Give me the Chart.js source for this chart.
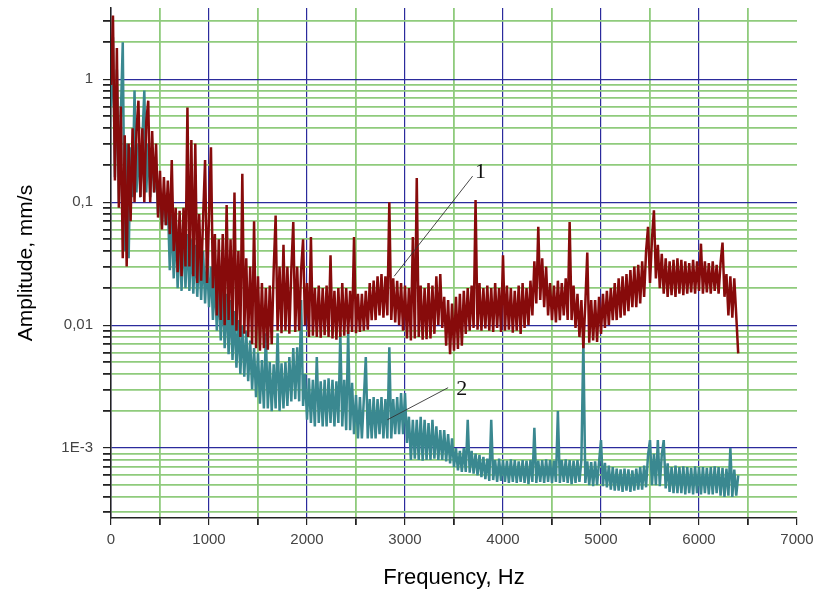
<!DOCTYPE html>
<html>
<head>
<meta charset="utf-8">
<title>Spektr</title>
<script src="https://cdn.jsdelivr.net/npm/chart.js@4.4.0/dist/chart.umd.min.js"></script>
<style>
  html, body { margin: 0; padding: 0; background: #fff; }
  canvas { display: block; }
</style>
</head>
<body>
<canvas id="spektr" width="821" height="597"></canvas>
<script>
// spacing between spectrum lines, Hz
var freqStep = 20;

// curve 1 - amplitude, mm/s (0 ... 6400 Hz)
var amp1 = [
    0.9, 3.3, 0.15, 1.8, 0.09, 0.6, 0.035, 0.35, 0.03, 0.3,
    0.07, 0.4, 0.1, 0.38, 0.67, 0.11, 0.4, 0.1, 0.45, 0.67,
    0.1, 0.38, 0.12, 0.3, 0.075, 0.18, 0.06, 0.16, 0.065, 0.15,
    0.055, 0.22, 0.04, 0.09, 0.027, 0.085, 0.025, 0.09, 0.03, 0.59,
    0.03, 0.32, 0.025, 0.3, 0.022, 0.08, 0.023, 0.075, 0.22, 0.022,
    0.075, 0.28, 0.02, 0.055, 0.012, 0.05, 0.011, 0.055, 0.01, 0.095,
    0.011, 0.05, 0.01, 0.12, 0.009, 0.04, 0.008, 0.17, 0.0085, 0.035,
    0.008, 0.03, 0.007, 0.07, 0.0065, 0.025, 0.0062, 0.022, 0.0065, 0.02,
    0.0063, 0.021, 0.007, 0.028, 0.078, 0.009, 0.03, 0.0086, 0.045, 0.009,
    0.03, 0.0085, 0.028, 0.069, 0.0088, 0.03, 0.009, 0.028, 0.05, 0.01,
    0.022, 0.008, 0.052, 0.0082, 0.02, 0.008, 0.021, 0.0079, 0.02, 0.0083,
    0.021, 0.008, 0.037, 0.0078, 0.019, 0.0076, 0.02, 0.008, 0.022, 0.0082,
    0.02, 0.0085, 0.019, 0.0088, 0.052, 0.0086, 0.018, 0.0088, 0.018, 0.009,
    0.019, 0.0092, 0.022, 0.011, 0.023, 0.011, 0.025, 0.012, 0.026, 0.0115,
    0.025, 0.012, 0.1, 0.011, 0.024, 0.0105, 0.023, 0.01, 0.022, 0.009,
    0.021, 0.0078, 0.02, 0.0075, 0.052, 0.0078, 0.157, 0.008, 0.021, 0.0076,
    0.02, 0.0077, 0.022, 0.0078, 0.021, 0.0085, 0.025, 0.01, 0.026, 0.0095,
    0.017, 0.0068, 0.016, 0.0058, 0.015, 0.0062, 0.017, 0.0064, 0.018, 0.0068,
    0.019, 0.0085, 0.02, 0.009, 0.021, 0.0095, 0.104, 0.0092, 0.022, 0.009,
    0.02, 0.0094, 0.021, 0.009, 0.02, 0.0088, 0.022, 0.0095, 0.02, 0.0088,
    0.037, 0.009, 0.021, 0.0092, 0.02, 0.0087, 0.019, 0.009, 0.021, 0.0085,
    0.022, 0.0095, 0.02, 0.01, 0.023, 0.012, 0.033, 0.015, 0.063, 0.016,
    0.035, 0.014, 0.03, 0.012, 0.022, 0.011, 0.021, 0.0105, 0.023, 0.011,
    0.022, 0.012, 0.024, 0.011, 0.069, 0.011, 0.021, 0.0095, 0.018, 0.008,
    0.016, 0.0065, 0.015, 0.039, 0.0072, 0.016, 0.0075, 0.016, 0.0073, 0.017,
    0.0085, 0.018, 0.0095, 0.019, 0.01, 0.02, 0.011, 0.022, 0.011, 0.024,
    0.0115, 0.025, 0.012, 0.026, 0.013, 0.028, 0.014, 0.03, 0.014, 0.031,
    0.015, 0.033, 0.017, 0.04, 0.063, 0.022, 0.05, 0.086, 0.024, 0.045,
    0.02, 0.038, 0.018, 0.035, 0.017, 0.033, 0.0175, 0.034, 0.017, 0.035,
    0.018, 0.034, 0.0175, 0.033, 0.018, 0.032, 0.0185, 0.034, 0.018, 0.033,
    0.019, 0.046, 0.018, 0.033, 0.0185, 0.032, 0.018, 0.033, 0.019, 0.031,
    0.018, 0.032, 0.047, 0.017, 0.026, 0.012, 0.025, 0.0115, 0.024, 0.012,
    0.0059
];

// curve 2 - amplitude, mm/s (0 ... 6400 Hz)
var amp2 = [
    0.6, 2.2, 0.16, 1.2, 0.1, 0.5, 2.0, 0.04, 0.3, 0.035,
    0.28, 0.11, 0.81, 0.12, 0.3, 0.11, 0.32, 0.81, 0.12, 0.3,
    0.11, 0.28, 0.12, 0.2, 0.08, 0.13, 0.065, 0.12, 0.065, 0.1,
    0.028, 0.08, 0.024, 0.07, 0.02, 0.06, 0.019, 0.06, 0.02, 0.055,
    0.019, 0.05, 0.018, 0.045, 0.017, 0.04, 0.016, 0.04, 0.015, 0.035,
    0.014, 0.03, 0.011, 0.025, 0.009, 0.022, 0.0075, 0.02, 0.0065, 0.018,
    0.0058, 0.016, 0.0052, 0.013, 0.0045, 0.011, 0.004, 0.01, 0.0038, 0.009,
    0.0035, 0.0075, 0.003, 0.0065, 0.0026, 0.006, 0.0023, 0.0052, 0.0021, 0.0086,
    0.0021, 0.005, 0.002, 0.0048, 0.0021, 0.0086, 0.002, 0.0049, 0.0021, 0.005,
    0.0022, 0.0055, 0.0024, 0.0065, 0.0025, 0.0066, 0.0024, 0.016, 0.0022, 0.004,
    0.0017, 0.0037, 0.0016, 0.0036, 0.0015, 0.0055, 0.0016, 0.0035, 0.0015, 0.0036,
    0.0015, 0.0037, 0.0016, 0.0036, 0.0015, 0.0035, 0.0016, 0.0086, 0.0015, 0.0036,
    0.0014, 0.009, 0.0014, 0.0034, 0.0013, 0.0027, 0.0012, 0.0026, 0.0012, 0.0025,
    0.0055, 0.0012, 0.0025, 0.0012, 0.0026, 0.0012, 0.0025, 0.0013, 0.0026, 0.0012,
    0.0025, 0.0012, 0.0066, 0.0012, 0.0025, 0.0013, 0.0026, 0.0013, 0.0028, 0.0013,
    0.0028, 0.0011, 0.0018, 0.0008, 0.0017, 0.00082, 0.0017, 0.0008, 0.0018, 0.00079,
    0.0017, 0.0008, 0.0016, 0.0008, 0.0017, 0.00082, 0.0015, 0.0008, 0.0014, 0.0008,
    0.0014, 0.00078, 0.0013, 0.00075, 0.0012, 0.0007, 0.001, 0.00066, 0.00095, 0.00064,
    0.001, 0.00064, 0.0017, 0.00063, 0.00095, 0.00062, 0.0009, 0.0006, 0.00088, 0.00058,
    0.00085, 0.00056, 0.00082, 0.00054, 0.0017, 0.00055, 0.0008, 0.00053, 0.00082, 0.00054,
    0.0008, 0.00053, 0.00079, 0.00052, 0.00081, 0.00053, 0.0008, 0.00052, 0.00078, 0.00053,
    0.0008, 0.00052, 0.00079, 0.00051, 0.0008, 0.00053, 0.00146, 0.00052, 0.00079, 0.00053,
    0.0008, 0.00052, 0.00081, 0.00053, 0.0008, 0.00052, 0.00079, 0.00053, 0.002, 0.00052,
    0.0008, 0.00053, 0.00081, 0.00052, 0.0008, 0.00051, 0.00079, 0.00052, 0.0008, 0.00053,
    0.0008, 0.0076, 0.00052, 0.00078, 0.0005, 0.00077, 0.00049, 0.00078, 0.0005, 0.00077,
    0.00116, 0.00049, 0.00076, 0.00048, 0.00072, 0.00046, 0.0007, 0.00045, 0.00068, 0.00045,
    0.00067, 0.00044, 0.00068, 0.00045, 0.00067, 0.00044, 0.00066, 0.00045, 0.00068, 0.00046,
    0.0007, 0.00046, 0.00072, 0.00048, 0.00088, 0.00116, 0.0005, 0.0009, 0.0005, 0.00116,
    0.00049, 0.00088, 0.00116, 0.00047, 0.00075, 0.00044, 0.0007, 0.00043, 0.00072, 0.00043,
    0.0007, 0.00043, 0.00071, 0.00042, 0.0007, 0.00043, 0.00069, 0.00042, 0.00071, 0.00043,
    0.0007, 0.00042, 0.0007, 0.00043, 0.00069, 0.00042, 0.0007, 0.00042, 0.00071, 0.00043,
    0.0007, 0.00041, 0.00069, 0.0004, 0.00068, 0.00041, 0.001, 0.0004, 0.00067, 0.00041,
    0.0006
];

// labels of the decades on the log axis
var yLabels = { "1": "1", "0.1": "0,1", "0.01": "0,01", "0.001": "1E-3" };

var farbe_rot = "#870b0b";
var farbe_tuerkis = "#3a8890";
var gitter_blau = "#2b2b9c";
var gitter_gruen = "#8fcb7c";

function to_points(werte) {
    var punkte = [];
    for (var i = 0; i < werte.length; i++) {
        punkte.push({ x: i * freqStep, y: werte[i] });
    }
    return punkte;
}

function is_decade(v) {
    var l = Math.log10(v);
    return Math.abs(l - Math.round(l)) < 1e-6;
}

// curve numbers with leader lines
var beschriftung = [
    { text: "1", at: [3770, 0.175], from: [3690, 0.163], to: [2890, 0.025] },
    { text: "2", at: [3580, 0.003], from: [3440, 0.0031], to: [2820, 0.0017] }
];

var weisser_hintergrund = {
    id: "weisser_hintergrund",
    beforeDraw: function(chart) {
        var ctx = chart.ctx;
        ctx.save();
        ctx.fillStyle = "#ffffff";
        ctx.fillRect(0, 0, chart.width, chart.height);
        ctx.restore();
    }
};

var kurven_nummern = {
    id: "kurven_nummern",
    afterDatasetsDraw: function(chart) {
        var ctx = chart.ctx;
        var sx = chart.scales.x, sy = chart.scales.y;
        ctx.save();
        for (var i = 0; i < beschriftung.length; i++) {
            var b = beschriftung[i];
            ctx.strokeStyle = "#333";
            ctx.lineWidth = 0.9;
            ctx.beginPath();
            ctx.moveTo(sx.getPixelForValue(b.from[0]), sy.getPixelForValue(b.from[1]));
            ctx.lineTo(sx.getPixelForValue(b.to[0]), sy.getPixelForValue(b.to[1]));
            ctx.stroke();
            ctx.fillStyle = "#111";
            ctx.font = "22px 'Liberation Serif', serif";
            ctx.textAlign = "center";
            ctx.textBaseline = "middle";
            ctx.fillText(b.text, sx.getPixelForValue(b.at[0]), sy.getPixelForValue(b.at[1]));
        }
        ctx.restore();
    }
};

var ctx = document.getElementById("spektr").getContext("2d");
var myChart = new Chart(ctx, {
    type: "line",
    data: {
        datasets: [
            {
                label: "1",
                data: to_points(amp1),
                borderColor: farbe_rot,
                borderWidth: 2.5,
                pointRadius: 0,
                tension: 0
            },
            {
                label: "2",
                data: to_points(amp2),
                borderColor: farbe_tuerkis,
                borderWidth: 2.5,
                pointRadius: 0,
                tension: 0
            }
        ]
    },
    options: {
        responsive: false,
        animation: false,
        layout: { padding: { left: 0, top: 8, right: 24, bottom: 0 } },
        plugins: {
            legend: { display: false },
            tooltip: { enabled: false }
        },
        scales: {
            x: {
                type: "linear",
                min: 0,
                max: 7000,
                afterFit: function(scale) { scale.height = 79; },
                border: { color: "#222", width: 1.5 },
                grid: {
                    color: function(c) {
                        var v = c.tick.value;
                        if (v >= 7000) return "rgba(0,0,0,0)";
                        return v % 1000 === 0 ? gitter_blau : gitter_gruen;
                    },
                    lineWidth: function(c) { return c.tick.value % 1000 === 0 ? 1.2 : 1.8; },
                    tickColor: "#222",
                    tickLength: 7
                },
                ticks: {
                    stepSize: 500,
                    autoSkip: false,
                    maxRotation: 0,
                    padding: 6,
                    color: "#444",
                    font: { family: "'Liberation Sans', Arial, sans-serif", size: 15 },
                    callback: function(v) { return v % 1000 === 0 ? String(v) : ""; }
                },
                title: {
                    display: true,
                    text: "Frequency, Hz",
                    color: "#000",
                    font: { family: "'Liberation Sans', Arial, sans-serif", size: 22 },
                    padding: { top: 0, bottom: 6 }
                }
            },
            y: {
                type: "logarithmic",
                min: 0.00027,
                max: 3.8,
                afterFit: function(scale) {
                    scale.width = 111;
                    scale.paddingTop = 0;
                    scale.paddingBottom = 0;
                },
                afterBuildTicks: function(scale) {
                    var t = [];
                    for (var d = -4; d <= 0; d++) {
                        for (var m = 1; m <= 9; m++) {
                            var v = parseFloat((m * Math.pow(10, d)).toPrecision(3));
                            if (v >= scale.min && v <= scale.max) t.push({ value: v });
                        }
                    }
                    scale.ticks = t;
                },
                border: { color: "#222", width: 1.5 },
                grid: {
                    color: function(c) { return is_decade(c.tick.value) ? gitter_blau : gitter_gruen; },
                    lineWidth: function(c) { return is_decade(c.tick.value) ? 1.2 : 1.8; },
                    tickColor: "#222",
                    tickLength: 8
                },
                ticks: {
                    autoSkip: false,
                    padding: 10,
                    color: "#444",
                    font: { family: "'Liberation Sans', Arial, sans-serif", size: 15 },
                    callback: function(v) {
                        var key = String(parseFloat(Number(v).toPrecision(3)));
                        return yLabels[key] || "";
                    }
                },
                title: {
                    display: true,
                    text: "Amplitude, mm/s",
                    color: "#000",
                    font: { family: "'Liberation Sans', Arial, sans-serif", size: 21 },
                    padding: { top: 14, bottom: 0 }
                }
            }
        }
    },
    plugins: [weisser_hintergrund, kurven_nummern]
});
</script>
</body>
</html>
